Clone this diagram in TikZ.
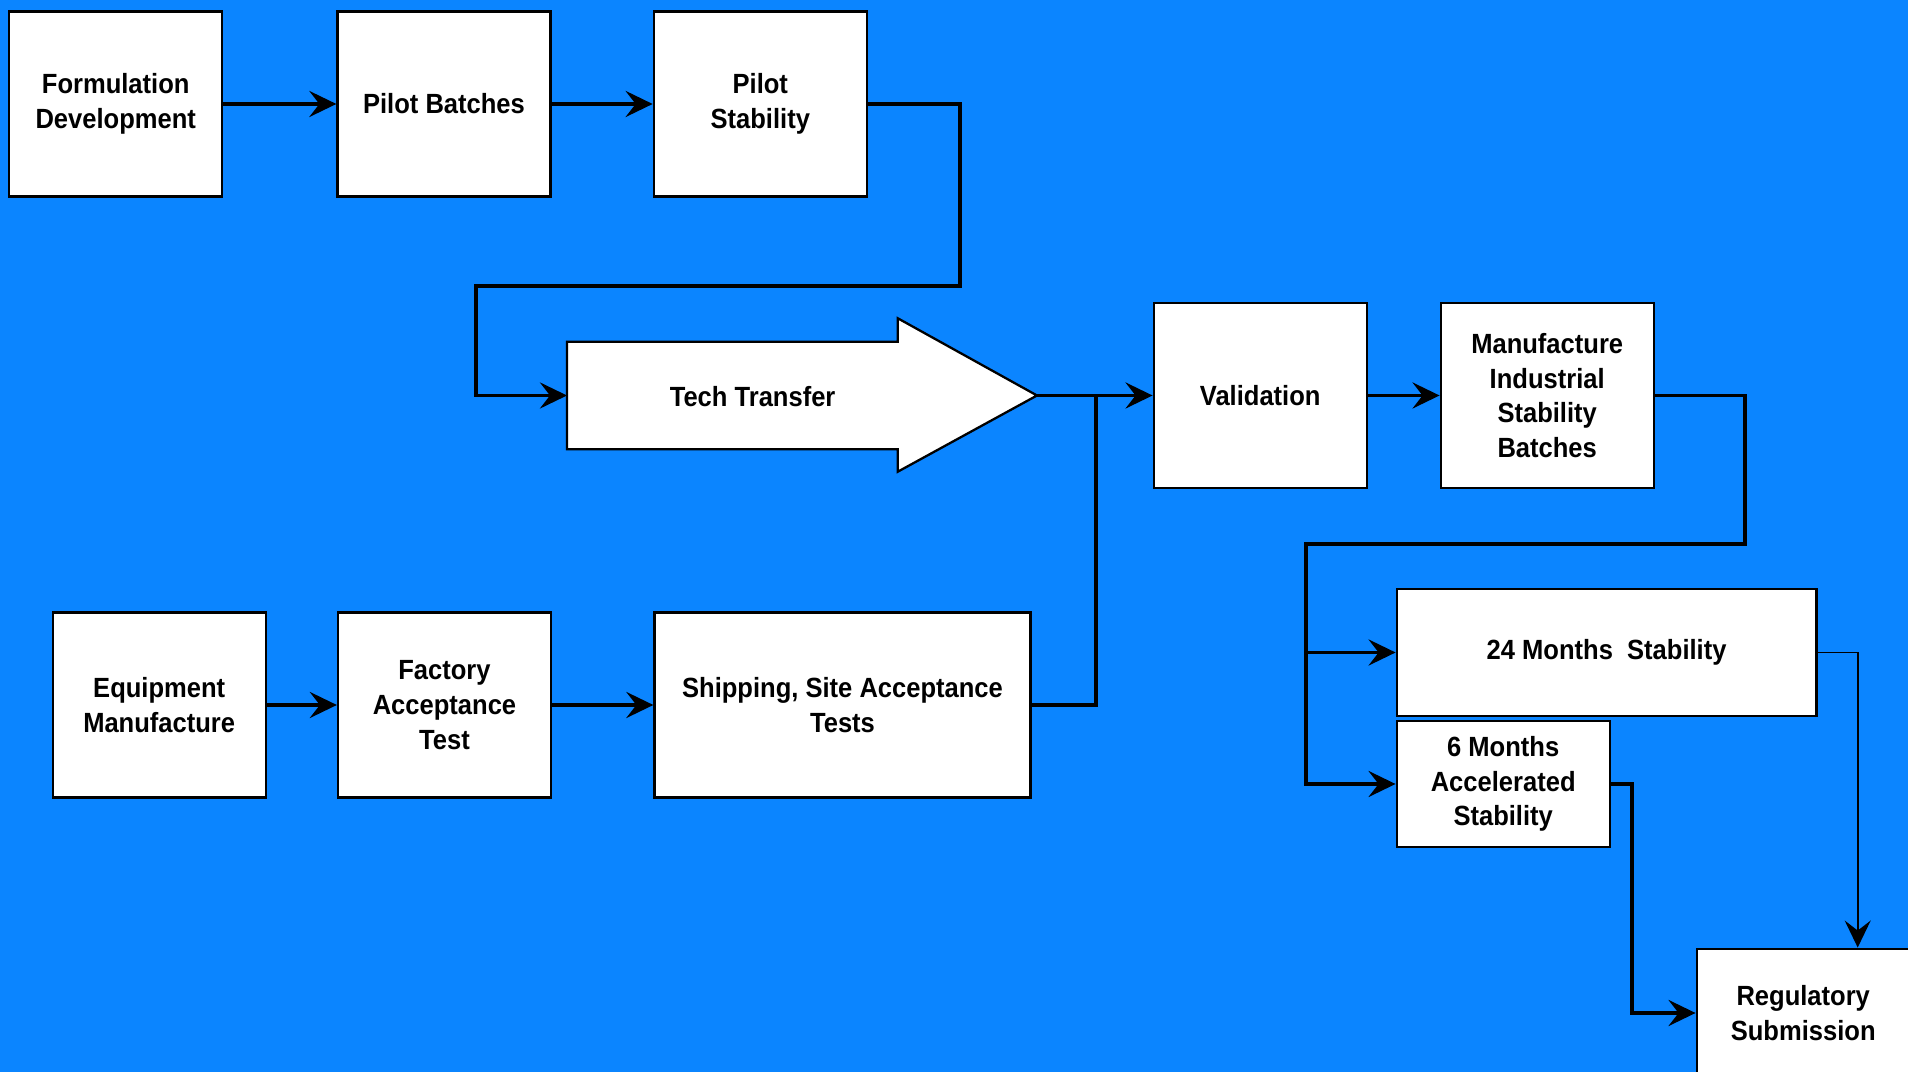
\documentclass[tikz,border=0pt]{standalone}
\usepackage{fontspec}
\setmainfont{Liberation Sans}[FakeStretch=0.92]
\usetikzlibrary{arrows.meta}
\usetikzlibrary{calc}
\definecolor{bgblue}{RGB}{11,133,255}
\tikzset{
    lbl/.style={font=\fontsize{7.9}{9.9}\selectfont\bfseries,align=center,inner sep=0pt},
    stage/.style={lbl,draw,fill=white,line width=0.65pt,minimum width=2.13cm,minimum height=1.85cm},
    flow/.style={line width=1.1pt,-{Stealth[length=2.7mm,width=2.6mm,inset=1mm]}},
    merge/.style={line width=1.1pt}
}
\begin{document}
\begin{tikzpicture}[x=1cm,y=-1cm]
            \useasboundingbox (0,0) rectangle (19.08,10.72);
            \clip (0,0) rectangle (19.08,10.72);
            \fill[bgblue] (0,0) rectangle (19.08,10.72);
            \node[stage] (form) at (1.157,1.04) {Formulation\\Development};
            \node[stage] (pbatch) at (4.44,1.04) {Pilot Batches};
            \node[stage] (pstab) at (7.603,1.04) {Pilot\\Stability};
            \node[stage] (equip) at (1.592,7.05) {Equipment\\Manufacture};
            \node[stage] (fat) at (4.445,7.05) {Factory\\Acceptance\\Test};
            \node[stage,minimum width=3.76cm] (ship) at (8.425,7.05) {Shipping, Site Acceptance\\Tests};
            \node[stage] (val) at (12.602,3.955) {Validation};
            \node[stage] (misb) at (15.472,3.955) {Manufacture\\Industrial\\Stability\\Batches};
            \node[stage,minimum width=4.197cm,minimum height=1.265cm] (m24) at (16.066,6.525) {24 Months~ Stability};
            \node[stage,minimum height=1.26cm] (m6) at (15.032,7.84) {6 Months\\Accelerated\\Stability};
            \node[stage,minimum height=1.286cm] (reg) at (18.032,10.13) {Regulatory\\Submission};
            \draw[fill=white,line width=0.65pt] (5.67,3.417) -- (8.978,3.417) -- (8.978,3.183)
                -- (10.37,3.955) -- (8.978,4.717) -- (8.978,4.493) -- (5.67,4.493) -- cycle;
            \node[lbl] (tech) at (7.526,3.97) {Tech Transfer};
            \coordinate (techin) at (5.67,3.955);
            \coordinate (techtip) at (10.37,3.955);
            \coordinate (regtop) at ($(reg.north)+(0.545,0)$);
            \draw[flow] (form) -- (pbatch);
            \draw[flow] (pbatch) -- (pstab);
            \draw[flow] (pstab.east) -| (9.60,2.86) -| (4.76,3.955) -- (techin);
            \draw[flow] (equip) -- (fat);
            \draw[flow] (fat) -- (ship);
            \draw[merge] (ship.east) -| (10.96,3.955);
            \draw[flow] (techtip) -- (val.west);
            \draw[flow] (val) -- (misb);
            \draw[flow] (misb.east) -| (17.454,5.44) -| (13.062,6.525) -- (m24.west);
            \draw[flow] (13.062,5.44) |- (m6.west);
            \draw[flow,line width=0.5pt] (m24.east) -| (regtop);
            \draw[flow] (m6.east) -| (16.317,10.13) -- (reg.west);
        \end{tikzpicture}
\end{document}
